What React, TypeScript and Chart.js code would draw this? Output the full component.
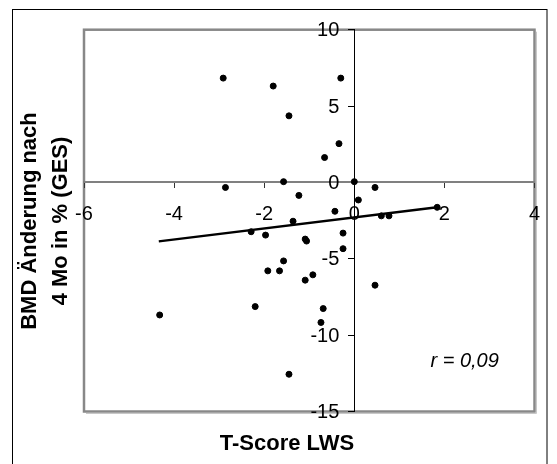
import React, { useEffect, useRef } from "react";
import { Chart, registerables } from "chart.js";

Chart.register(...registerables);

const tScore = [
  -2.91, -1.8, -0.3, -1.45, -0.34, -0.66, -1.57, 0.0, -2.86, -1.23, 0.09, -0.43,
  -1.36, -2.29, -1.97, -1.09, -1.06, -0.25, -0.25, -1.57, -1.92, -1.66, -0.92,
  -1.09, -2.2, -0.69, -0.74, -1.45, 0.46, 0.6, 0.77, 1.84, 0.46, -4.32,
];
const bmdChange = [
  6.83, 6.31, 6.83, 4.36, 2.54, 1.63, 0.05, 0.05, -0.33, -0.85, -1.15, -1.89,
  -2.54, -3.23, -3.45, -3.71, -3.84, -3.32, -4.34, -5.14, -5.79, -5.79, -6.05,
  -6.4, -8.13, -8.26, -9.17, -12.56, -0.33, -2.19, -2.19, -1.63, -6.73, -8.68,
];
const trendX = [-4.34, 1.84];
const trendY = [-3.86, -1.62];

const xTitle = "T-Score LWS";
const yTitleLines = ["BMD Änderung nach", "4 Mo in % (GES)"];
const rLabel = "r = 0,09";
const rPos = [2.45, -11.7];

const FONT = "'Liberation Sans', Arial, Helvetica, sans-serif";

export default function App() {
  const ref = useRef<HTMLCanvasElement | null>(null);

  useEffect(() => {
    document.body.style.margin = "0";
    const canvas = ref.current;
    if (!canvas) return;

    Chart.defaults.font.family = FONT;
    Chart.defaults.font.size = 20;
    Chart.defaults.color = "#000000";

    const decor = {
      id: "decor",
      beforeDraw(chart: any) {
        const ctx = chart.ctx;
        const a = chart.chartArea;
        ctx.save();
        ctx.fillStyle = "#ffffff";
        ctx.fillRect(0, 0, chart.width, chart.height);
        ctx.strokeStyle = "#000000";
        ctx.lineWidth = 1;
        ctx.strokeRect(12.5, 9.5, 534.5, 480);
        ctx.strokeStyle = "#c8c8c8";
        ctx.lineWidth = 1;
        ctx.beginPath();
        ctx.moveTo(a.right + 2, a.top + 2);
        ctx.lineTo(a.right + 2, a.bottom + 2);
        ctx.lineTo(a.left + 2, a.bottom + 2);
        ctx.stroke();
        ctx.strokeStyle = "#888888";
        ctx.lineWidth = 2.5;
        ctx.strokeRect(a.left, a.top, a.right - a.left, a.bottom - a.top);
        ctx.restore();
      },
      afterDraw(chart: any) {
        const ctx = chart.ctx;
        const sx = chart.scales.x;
        const sy = chart.scales.y;
        ctx.save();
        ctx.fillStyle = "#000000";
        ctx.font = `20px ${FONT}`;
        ctx.textAlign = "right";
        ctx.textBaseline = "middle";
        const axisX = sx.getPixelForValue(0);
        sy.ticks.forEach((t: any) => {
          ctx.fillText(String(t.value), axisX - 15, sy.getPixelForValue(t.value) + 1);
        });
        ctx.font = `bold 22px ${FONT}`;
        ctx.textAlign = "center";
        ctx.fillText(xTitle, 287, 444);
        const cy = 221;
        const xs = [30, 61];
        yTitleLines.forEach((line, i) => {
          ctx.save();
          ctx.translate(xs[i], cy);
          ctx.rotate(-Math.PI / 2);
          ctx.fillText(line, 0, 0);
          ctx.restore();
        });
        ctx.font = `italic 20px ${FONT}`;
        ctx.fillText(rLabel, sx.getPixelForValue(rPos[0]), sy.getPixelForValue(rPos[1]));
        ctx.restore();
      },
    };

    const tickFont = { family: FONT, size: 20, weight: "normal" as const };

    const chart = new Chart(canvas, {
      type: "scatter",
      data: {
        datasets: [
          {
            label: "Werte",
            data: tScore.map((x, i) => ({ x, y: bmdChange[i] })),
            backgroundColor: "#000000",
            borderColor: "#000000",
            pointRadius: 3,
            pointHoverRadius: 3,
            order: 1,
          },
          {
            label: "Trend",
            data: trendX.map((x, i) => ({ x, y: trendY[i] })),
            showLine: true,
            borderColor: "#000000",
            borderWidth: 2.5,
            pointRadius: 0,
            order: 0,
          } as any,
        ],
      },
      options: {
        animation: false,
        responsive: false,
        maintainAspectRatio: false,
        layout: { padding: { left: 84, right: 22.5, top: 29.7, bottom: 52.5 } },
        plugins: {
          legend: { display: false },
          tooltip: { enabled: false },
          title: { display: false },
        },
        scales: {
          x: {
            type: "linear",
            position: { y: 0 } as any,
            min: -6,
            max: 4,
            ticks: {
              stepSize: 2,
              padding: 15,
              color: "#000000",
              font: tickFont,
              maxRotation: 0,
            },
            grid: {
              drawOnChartArea: false,
              drawTicks: true,
              tickLength: 5,
              color: "#333333",
            },
            border: { display: true, color: "#808080", width: 2 },
          },
          y: {
            type: "linear",
            position: { x: 0 } as any,
            min: -15,
            max: 10,
            ticks: {
              stepSize: 5,
              display: false,
              font: tickFont,
            },
            grid: {
              drawOnChartArea: false,
              drawTicks: true,
              tickLength: 6,
              color: "#000000",
            },
            border: { display: true, color: "#000000", width: 1 },
          },
        },
      },
      plugins: [decor],
    });

    return () => chart.destroy();
  }, []);

  return <canvas ref={ref} width={557} height={464} style={{ display: "block" }} />;
}
